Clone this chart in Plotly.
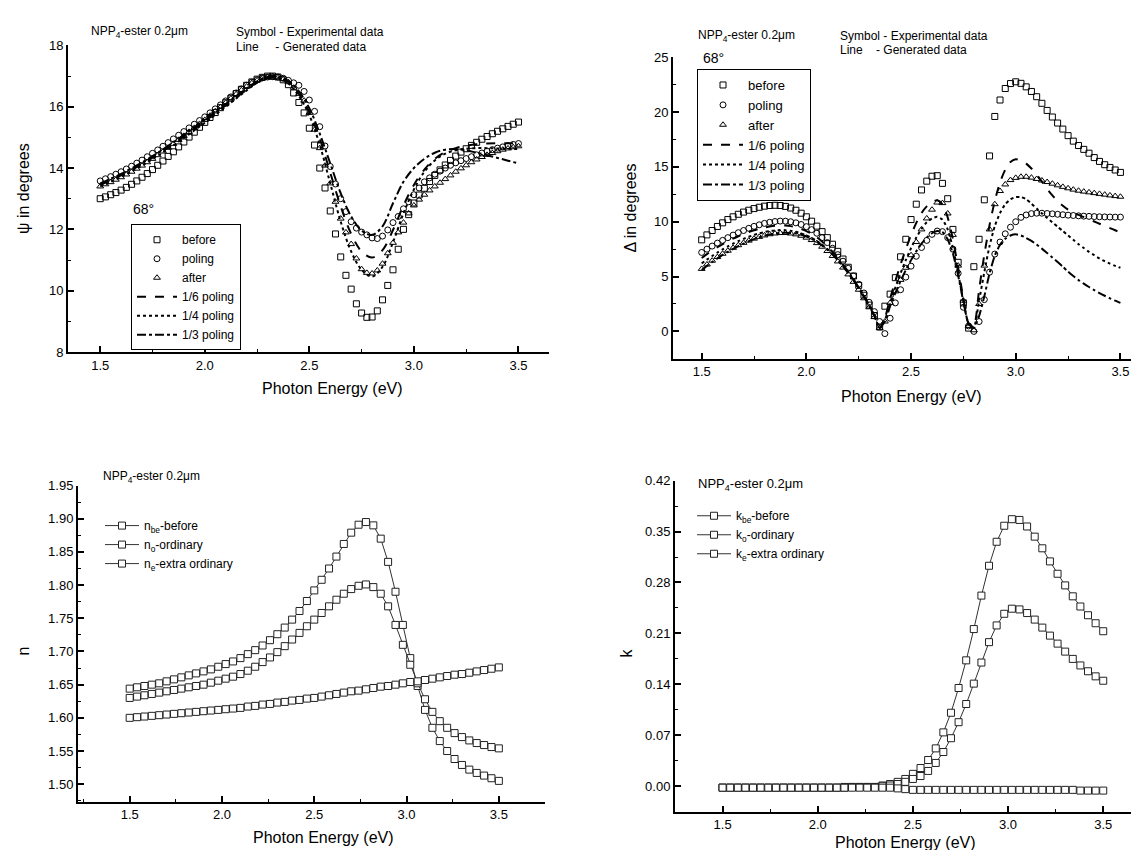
import plotly.graph_objects as go

# ---------------- data ----------------
# photon energy grids (eV)
E_TOP = [1.500, 1.525, 1.550, 1.575, 1.600, 1.625, 1.650, 1.675, 1.700, 1.725,
         1.750, 1.775, 1.800, 1.825, 1.850, 1.875, 1.900, 1.925, 1.950, 1.975,
         2.000, 2.025, 2.050, 2.075, 2.100, 2.125, 2.150, 2.175, 2.200, 2.225,
         2.250, 2.275, 2.300, 2.325, 2.350, 2.375, 2.400, 2.425, 2.450, 2.475,
         2.500, 2.525, 2.550, 2.575, 2.600, 2.625, 2.650, 2.675, 2.700, 2.725,
         2.750, 2.775, 2.800, 2.825, 2.850, 2.875, 2.900, 2.925, 2.950, 2.975,
         3.000, 3.025, 3.050, 3.075, 3.100, 3.125, 3.150, 3.175, 3.200, 3.225,
         3.250, 3.275, 3.300, 3.325, 3.350, 3.375, 3.400, 3.425, 3.450, 3.475,
         3.500]

E_LINE = [1.50, 1.55, 1.60, 1.65, 1.70, 1.75, 1.80, 1.85, 1.90, 1.95,
          2.00, 2.05, 2.10, 2.15, 2.20, 2.25, 2.30, 2.35, 2.40, 2.45,
          2.50, 2.55, 2.60, 2.65, 2.70, 2.75, 2.80, 2.85, 2.90, 2.95,
          3.00, 3.05, 3.10, 3.15, 3.20, 3.25, 3.30, 3.35, 3.40, 3.45, 3.50]

E_BOT = [1.50, 1.54, 1.58, 1.62, 1.66, 1.70, 1.74, 1.78, 1.82, 1.86,
         1.90, 1.94, 1.98, 2.02, 2.06, 2.10, 2.14, 2.18, 2.22, 2.26,
         2.30, 2.34, 2.38, 2.42, 2.46, 2.50, 2.54, 2.58, 2.62, 2.66,
         2.70, 2.74, 2.78, 2.82, 2.86, 2.90, 2.94, 2.98, 3.02, 3.06,
         3.10, 3.14, 3.18, 3.22, 3.26, 3.30, 3.34, 3.38, 3.42, 3.46, 3.50]

# --- psi (degrees), experimental ---
psi_before = [13.00, 13.06, 13.13, 13.20, 13.28, 13.37, 13.47, 13.58, 13.70, 13.82,
              13.95, 14.09, 14.23, 14.38, 14.53, 14.69, 14.85, 15.01, 15.17, 15.33,
              15.49, 15.65, 15.81, 15.97, 16.13, 16.28, 16.43, 16.57, 16.70, 16.81,
              16.90, 16.96, 17.00, 17.00, 16.97, 16.88, 16.72, 16.45, 16.14, 15.80,
              15.30, 14.75, 14.00, 13.35, 12.60, 11.85, 11.10, 10.50, 10.05, 9.57,
              9.27, 9.13, 9.14, 9.34, 9.70, 10.17, 10.68, 11.35, 12.00, 12.48,
              12.86, 13.12, 13.34, 13.56, 13.76, 13.94, 14.10, 14.25, 14.39, 14.52,
              14.63, 14.74, 14.84, 14.94, 15.03, 15.12, 15.20, 15.28, 15.36, 15.43,
              15.50]
psi_poling = [13.58, 13.65, 13.72, 13.80, 13.88, 13.97, 14.06, 14.16, 14.26, 14.37,
              14.48, 14.59, 14.71, 14.83, 14.95, 15.07, 15.19, 15.31, 15.43, 15.55,
              15.67, 15.80, 15.93, 16.06, 16.19, 16.32, 16.45, 16.58, 16.70, 16.80,
              16.88, 16.94, 16.97, 16.98, 16.97, 16.93, 16.86, 16.78, 16.70, 16.50,
              16.22, 15.85, 15.35, 14.72, 14.05, 13.48, 13.00, 12.58, 12.25, 12.04,
              11.91, 11.82, 11.72, 11.70, 11.78, 11.98, 12.22, 12.42, 12.67, 12.90,
              13.13, 13.35, 13.55, 13.68, 13.80, 13.90, 14.00, 14.09, 14.17, 14.24,
              14.31, 14.37, 14.43, 14.49, 14.55, 14.60, 14.65, 14.69, 14.73, 14.77,
              14.80]
psi_after = [13.40, 13.47, 13.54, 13.62, 13.70, 13.79, 13.88, 13.98, 14.08, 14.19,
             14.30, 14.42, 14.54, 14.66, 14.79, 14.92, 15.05, 15.18, 15.31, 15.44,
             15.57, 15.71, 15.85, 15.99, 16.13, 16.27, 16.41, 16.54, 16.66, 16.77,
             16.86, 16.93, 16.97, 16.98, 16.96, 16.90, 16.80, 16.62, 16.42, 16.20,
             15.80, 15.25, 14.65, 14.08, 13.50, 12.90, 12.35, 11.90, 11.52, 11.05,
             10.70, 10.58, 10.56, 10.66, 10.88, 11.22, 11.56, 11.90, 12.22, 12.52,
             12.78, 12.97, 13.13, 13.27, 13.40, 13.52, 13.64, 13.76, 13.88, 13.99,
             14.09, 14.19, 14.28, 14.36, 14.43, 14.49, 14.55, 14.60, 14.64, 14.68,
             14.71]
# --- psi, generated ---
psi_p16 = [13.45, 13.60, 13.76, 13.94, 14.13, 14.34, 14.56, 14.79, 15.03, 15.28,
           15.53, 15.78, 16.04, 16.30, 16.56, 16.80, 16.96, 16.97, 16.80, 16.42,
           15.82, 14.95, 13.85, 12.75, 11.85, 11.28, 11.08, 11.32, 11.98, 12.78,
           13.45, 13.95, 14.30, 14.52, 14.65, 14.73, 14.78, 14.80, 14.81, 14.81, 14.80]
psi_p14 = [13.40, 13.55, 13.71, 13.89, 14.08, 14.29, 14.51, 14.74, 14.98, 15.23,
           15.48, 15.74, 16.00, 16.27, 16.53, 16.78, 16.94, 16.95, 16.76, 16.35,
           15.72, 14.75, 13.50, 12.25, 11.28, 10.68, 10.46, 10.78, 11.58, 12.52,
           13.30, 13.88, 14.25, 14.47, 14.58, 14.63, 14.65, 14.65, 14.64, 14.63, 14.62]
psi_p13 = [13.50, 13.65, 13.81, 13.99, 14.18, 14.39, 14.61, 14.84, 15.08, 15.33,
           15.58, 15.83, 16.09, 16.35, 16.60, 16.83, 16.98, 16.99, 16.84, 16.50,
           15.95, 15.12, 14.15, 13.18, 12.42, 11.96, 11.82, 12.10, 12.85, 13.55,
           14.00, 14.30, 14.50, 14.60, 14.62, 14.58, 14.50, 14.42, 14.33, 14.24, 14.15]

# --- delta (degrees), experimental ---
del_before = [8.35, 8.80, 9.20, 9.57, 9.90, 10.20, 10.45, 10.68, 10.88, 11.05,
              11.20, 11.32, 11.42, 11.48, 11.50, 11.48, 11.40, 11.25, 11.05, 10.78,
              10.45, 10.05, 9.60, 9.10, 8.55, 7.95, 7.30, 6.60, 5.85, 5.05,
              4.20, 3.30, 2.40, 1.45, 0.40, 2.30, 3.40, 4.90, 6.80, 8.40,
              10.20, 11.60, 12.90, 13.70, 14.15, 14.20, 13.50, 12.10, 9.30, 6.30,
              2.60, 0.30, 5.90, 8.40, 12.00, 16.00, 19.60, 21.10, 22.15, 22.60,
              22.76, 22.62, 22.30, 21.88, 21.40, 20.80, 20.15, 19.55, 19.00, 18.45,
              17.85, 17.35, 16.95, 16.60, 16.25, 15.85, 15.50, 15.20, 14.95, 14.72,
              14.50]
del_poling = [7.20, 7.50, 7.78, 8.05, 8.30, 8.55, 8.78, 9.00, 9.20, 9.40,
              9.58, 9.72, 9.85, 9.95, 10.02, 10.06, 10.05, 10.00, 9.90, 9.75,
              9.55, 9.28, 8.95, 8.55, 8.10, 7.58, 7.00, 6.40, 5.75, 5.05,
              4.30, 3.50, 2.65, 1.80, 0.90, -0.20, 1.20, 2.60, 3.80, 4.95,
              5.95, 6.85, 7.65, 8.30, 8.85, 9.15, 9.10, 8.55, 7.50, 5.30,
              2.20, 0.50, 0.00, 0.90, 2.90, 5.40, 7.05, 8.15, 8.90, 9.50,
              10.00, 10.40, 10.62, 10.74, 10.78, 10.78, 10.75, 10.72, 10.68, 10.64,
              10.60, 10.57, 10.54, 10.51, 10.49, 10.47, 10.45, 10.44, 10.43, 10.42,
              10.42]
del_after = [5.70, 6.10, 6.45, 6.78, 7.08, 7.36, 7.62, 7.86, 8.08, 8.28,
             8.46, 8.62, 8.75, 8.86, 8.93, 8.97, 8.97, 8.93, 8.85, 8.72,
             8.55, 8.33, 8.05, 7.72, 7.33, 6.88, 6.38, 5.82, 5.20, 4.52,
             3.80, 3.02, 2.20, 1.30, 0.30, 0.90, 2.60, 3.65, 4.70, 5.80,
             6.95, 8.15, 9.30, 10.30, 11.10, 11.75, 11.70, 10.75, 8.80, 6.00,
             2.80, 0.50, 0.10, 2.50, 6.00, 9.30, 11.60, 12.80, 13.40, 13.80,
             14.00, 14.10, 14.10, 14.02, 13.90, 13.76, 13.62, 13.47, 13.32, 13.18,
             13.05, 12.93, 12.83, 12.75, 12.68, 12.61, 12.54, 12.47, 12.40, 12.34,
             12.28]
# --- delta, generated ---
del_p16 = [6.70, 7.05, 7.38, 7.68, 7.96, 8.22, 8.46, 8.68, 8.88, 9.06,
           9.22, 9.36, 9.48, 9.57, 9.63, 9.66, 9.65, 9.60, 9.50, 9.35,
           9.15, 8.90, 8.58, 8.20, 7.76, 7.26, 6.70, 6.10, 5.45, 4.75,
           4.00, 3.20, 2.35, 1.40, 0.30, 1.20, 3.00, 4.60, 6.10, 7.50,
           8.80, 9.90, 10.80, 11.40, 11.80, 11.95, 11.60, 10.40, 8.40, 5.80,
           3.00, 0.70, 0.50, 3.80, 7.00, 9.70, 11.90, 13.60, 14.75, 15.45,
           15.70, 15.60, 15.30, 14.85, 14.30, 13.65, 13.00, 12.40, 11.90, 11.45,
           11.10, 10.85, 10.62, 10.42, 10.22, 10.02, 9.82, 9.62, 9.42, 9.22,
           9.02]
del_p14 = [6.20, 6.55, 6.88, 7.19, 7.48, 7.75, 8.00, 8.23, 8.44, 8.63,
           8.80, 8.94, 9.06, 9.15, 9.21, 9.24, 9.23, 9.18, 9.08, 8.94,
           8.75, 8.52, 8.24, 7.90, 7.50, 7.04, 6.53, 5.97, 5.36, 4.70,
           3.98, 3.20, 2.35, 1.40, 0.30, 1.00, 2.60, 4.00, 5.30, 6.50,
           7.60, 8.55, 9.35, 9.95, 10.30, 10.45, 10.20, 9.30, 7.60, 5.30,
           2.80, 0.70, 0.40, 2.80, 5.40, 7.80, 9.60, 10.80, 11.60, 12.05,
           12.25, 12.25, 12.05, 11.65, 11.20, 10.75, 10.35, 9.95, 9.55, 9.15,
           8.75, 8.35, 7.95, 7.60, 7.25, 6.95, 6.65, 6.40, 6.18, 5.98,
           5.80]
del_p13 = [5.60, 5.98, 6.33, 6.66, 6.97, 7.26, 7.53, 7.78, 8.01, 8.22,
           8.41, 8.58, 8.72, 8.84, 8.93, 8.98, 9.00, 8.98, 8.92, 8.81,
           8.65, 8.44, 8.17, 7.84, 7.45, 7.00, 6.49, 5.93, 5.32, 4.66,
           3.95, 3.18, 2.35, 1.42, 0.35, 0.90, 2.30, 3.50, 4.60, 5.60,
           6.50, 7.30, 8.00, 8.55, 8.95, 9.15, 9.05, 8.40, 7.10, 5.10,
           2.70, 0.70, 0.30, 1.40, 3.20, 5.30, 6.90, 7.90, 8.45, 8.75,
           8.85, 8.75, 8.52, 8.25, 7.92, 7.55, 7.15, 6.75, 6.33, 5.90,
           5.45, 5.05, 4.68, 4.35, 4.05, 3.77, 3.50, 3.25, 3.02, 2.80,
           2.60]

# --- refractive index n ---
n_be = [1.644, 1.646, 1.648, 1.650, 1.652, 1.655, 1.658, 1.661, 1.664, 1.667,
        1.670, 1.673, 1.677, 1.681, 1.685, 1.690, 1.696, 1.702, 1.709, 1.717,
        1.726, 1.736, 1.748, 1.761, 1.776, 1.792, 1.808, 1.825, 1.843, 1.862,
        1.879, 1.891, 1.895, 1.890, 1.870, 1.835, 1.790, 1.740, 1.690, 1.648,
        1.612, 1.585, 1.565, 1.550, 1.538, 1.529, 1.522, 1.517, 1.513, 1.509, 1.505]
n_o = [1.630, 1.632, 1.634, 1.636, 1.638, 1.640, 1.642, 1.644, 1.646, 1.648,
       1.650, 1.653, 1.656, 1.659, 1.662, 1.666, 1.671, 1.677, 1.684, 1.691,
       1.699, 1.708, 1.718, 1.728, 1.738, 1.748, 1.758, 1.768, 1.778, 1.787,
       1.794, 1.799, 1.801, 1.797, 1.787, 1.768, 1.740, 1.710, 1.680, 1.652,
       1.628, 1.609, 1.595, 1.585, 1.577, 1.571, 1.566, 1.562, 1.559, 1.556, 1.554]
n_e = [1.600, 1.601, 1.602, 1.603, 1.604, 1.605, 1.606, 1.607, 1.608, 1.609,
       1.610, 1.611, 1.612, 1.613, 1.614, 1.615, 1.617, 1.618, 1.620, 1.621,
       1.623, 1.624, 1.626, 1.627, 1.629, 1.630, 1.632, 1.634, 1.636, 1.638,
       1.640, 1.641, 1.643, 1.645, 1.647, 1.648, 1.650, 1.652, 1.654, 1.655,
       1.657, 1.659, 1.661, 1.663, 1.665, 1.666, 1.668, 1.670, 1.672, 1.674, 1.676]

# --- extinction coefficient k ---
k_be = [-0.002, -0.002, -0.002, -0.002, -0.002, -0.002, -0.002, -0.002, -0.002, -0.002,
        -0.002, -0.002, -0.002, -0.002, -0.002, -0.002, -0.001, -0.001, -0.001, -0.001,
        -0.001, 0.001, 0.003, 0.006, 0.010, 0.017, 0.025, 0.036, 0.052, 0.074,
        0.101, 0.135, 0.173, 0.216, 0.262, 0.303, 0.336, 0.358, 0.367, 0.366,
        0.357, 0.343, 0.327, 0.309, 0.292, 0.276, 0.261, 0.247, 0.235, 0.224, 0.213]
k_o = [-0.002, -0.002, -0.002, -0.002, -0.002, -0.002, -0.002, -0.002, -0.002, -0.002,
       -0.002, -0.002, -0.002, -0.002, -0.002, -0.002, -0.002, -0.001, -0.001, -0.001,
       -0.001, 0.000, 0.001, 0.003, 0.006, 0.010, 0.014, 0.021, 0.032, 0.047,
       0.066, 0.088, 0.113, 0.141, 0.170, 0.198, 0.221, 0.237, 0.244, 0.243,
       0.238, 0.229, 0.218, 0.207, 0.196, 0.185, 0.175, 0.166, 0.158, 0.151, 0.145]
k_e = [-0.002, -0.002, -0.002, -0.002, -0.002, -0.002, -0.002, -0.002, -0.002, -0.002,
       -0.002, -0.002, -0.002, -0.002, -0.002, -0.002, -0.002, -0.002, -0.002, -0.002,
       -0.002, -0.002, -0.002, -0.003, -0.004, -0.005, -0.005, -0.005, -0.005, -0.005,
       -0.005, -0.005, -0.005, -0.005, -0.005, -0.005, -0.005, -0.005, -0.005, -0.005,
       -0.005, -0.005, -0.005, -0.005, -0.005, -0.005, -0.005, -0.006, -0.006, -0.006, -0.006]

# legend labels
exp_names = ["before", "poling", "after"]
gen_names = ["1/6 poling", "1/4 poling", "1/3 poling"]
n_names = ["n<sub>be</sub>-before", "n<sub>o</sub>-ordinary", "n<sub>e</sub>-extra ordinary"]
k_names = ["k<sub>be</sub>-before", "k<sub>o</sub>-ordinary", "k<sub>e</sub>-extra ordinary"]

# ---------------- figure ----------------
W, H = 1139, 850
FONT = "Liberation Sans, Arial, sans-serif"
fig = go.Figure()

exp_symbols = ["square-open", "circle-open", "triangle-up-open"]
exp_sizes = [6, 6, 6]
gen_dash = ["dash", "dot", "dashdot"]

# top-left: psi
for name, ys, sym, sz in zip(exp_names, [psi_before, psi_poling, psi_after], exp_symbols, exp_sizes):
    fig.add_trace(go.Scatter(x=E_TOP, y=ys, mode="markers", name=name,
                             marker=dict(symbol=sym, size=sz, color="black", line=dict(width=1, color="black")),
                             xaxis="x", yaxis="y", legend="legend"))
for name, ys, d in zip(gen_names, [psi_p16, psi_p14, psi_p13], gen_dash):
    fig.add_trace(go.Scatter(x=E_LINE, y=ys, mode="lines", name=name,
                             line=dict(color="black", width=2, dash=d, shape="spline"),
                             xaxis="x", yaxis="y", legend="legend"))

# top-right: delta
for name, ys, sym, sz in zip(exp_names, [del_before, del_poling, del_after], exp_symbols, exp_sizes):
    fig.add_trace(go.Scatter(x=E_TOP, y=ys, mode="markers", name=name,
                             marker=dict(symbol=sym, size=sz, color="black", line=dict(width=1, color="black")),
                             xaxis="x2", yaxis="y2", legend="legend2"))
for name, ys, d in zip(gen_names, [del_p16, del_p14, del_p13], gen_dash):
    fig.add_trace(go.Scatter(x=E_TOP, y=ys, mode="lines", name=name,
                             line=dict(color="black", width=2, dash=d, shape="spline", smoothing=0.6),
                             xaxis="x2", yaxis="y2", legend="legend2"))

# bottom-left: n
for name, ys in zip(n_names, [n_be, n_o, n_e]):
    fig.add_trace(go.Scatter(x=E_BOT, y=ys, mode="lines+markers", name=name,
                             line=dict(color="#333333", width=1),
                             marker=dict(symbol="square", size=7, color="white",
                                         line=dict(width=1, color="#222222")),
                             xaxis="x3", yaxis="y3", legend="legend3"))

# bottom-right: k
for name, ys in zip(k_names, [k_be, k_o, k_e]):
    fig.add_trace(go.Scatter(x=E_BOT, y=ys, mode="lines+markers", name=name,
                             line=dict(color="#333333", width=1),
                             marker=dict(symbol="square", size=7, color="white",
                                         line=dict(width=1, color="#222222")),
                             xaxis="x4", yaxis="y4", legend="legend4"))


def px_x(v):
    return v / W


def px_y(v):
    return 1 - v / H


def axis(domain, rng, dtick, minor_dtick, anchor, fmt, tick0=0):
    return dict(domain=domain, range=rng, dtick=dtick, tick0=tick0, anchor=anchor,
                showline=True, linewidth=2, linecolor="black", mirror=False,
                ticks="inside", ticklen=6, tickwidth=1.5, tickcolor="black",
                showgrid=False, zeroline=False, tickformat=fmt,
                tickfont=dict(family=FONT, size=13, color="black"),
                minor=dict(dtick=minor_dtick, ticks="inside", ticklen=3, tickwidth=1,
                           tickcolor="black", showgrid=False))


layout = dict(
    width=W, height=H, margin=dict(l=0, r=0, t=0, b=0),
    paper_bgcolor="white", plot_bgcolor="white",
    font=dict(family=FONT, color="black"),
    xaxis=axis([px_x(60), px_x(541)], [1.346, 3.646], 0.5, 0.25, "y", ".1f", 1.5),
    yaxis=axis([px_y(343), px_y(31)], [8, 18], 2, 1, "x", "d"),
    xaxis2=axis([px_x(665), 1.0], [1.363, 3.627], 0.5, 0.25, "y2", ".1f", 1.5),
    yaxis2=axis([px_y(350), px_y(43)], [-2.5, 25], 5, 2.5, "x2", "d"),
    xaxis3=axis([px_x(70), px_x(537)], [1.22, 3.75], 0.5, 0.25, "y3", ".1f", 1.5),
    yaxis3=axis([px_y(801), px_y(479)], [1.4734, 1.95], 0.05, 0.025, "x3", ".2f", 1.5),
    xaxis4=axis([px_x(667), 1.0], [1.25, 3.73], 0.5, 0.25, "y4", ".1f", 1.5),
    yaxis4=axis([px_y(811), px_y(474)], [-0.035, 0.42], 0.07, 0.035, "x4", ".2f", 0),
    legend=dict(x=px_x(123), y=px_y(213), xanchor="left", yanchor="top",
                bordercolor="black", borderwidth=1, bgcolor="white",
                font=dict(family=FONT, size=12, color="black"), itemwidth=40,
                tracegroupgap=0),
    legend2=dict(x=px_x(689), y=px_y(55), xanchor="left", yanchor="top",
                 bordercolor="black", borderwidth=1, bgcolor="white",
                 font=dict(family=FONT, size=13, color="black"), itemwidth=40,
                 tracegroupgap=0),
    legend3=dict(x=px_x(92), y=px_y(505), xanchor="left", yanchor="top",
                 borderwidth=0, bgcolor="rgba(0,0,0,0)",
                 font=dict(family=FONT, size=12, color="black"), itemwidth=34,
                 tracegroupgap=0),
    legend4=dict(x=px_x(684), y=px_y(495), xanchor="left", yanchor="top",
                 borderwidth=0, bgcolor="rgba(0,0,0,0)",
                 font=dict(family=FONT, size=12, color="black"), itemwidth=34,
                 tracegroupgap=0),
)
fig.update_layout(**layout)

ann = []


def text(x, y, s, size=12, xanchor="left", angle=0):
    ann.append(dict(x=px_x(x), y=px_y(y), xref="paper", yref="paper", text=s,
                    showarrow=False, xanchor=xanchor, yanchor="middle", textangle=angle,
                    font=dict(family=FONT, size=size, color="black")))


SP = "\u00a0"
# headers
text(81, 17, "NPP<sub>4</sub>-ester 0.2\u03bcm", 12)
text(226, 17, "Symbol - Experimental data", 12)
text(226, 33, "Line" + SP * 5 + "- Generated data", 12)
text(123, 197, "68\u00b0", 14)

text(688, 21, "NPP<sub>4</sub>-ester 0.2\u03bcm", 12)
text(830, 21, "Symbol - Experimental data", 12)
text(830, 36, "Line" + SP * 4 + "- Generated data", 12)
text(693, 44, "68\u00b0", 14)

text(93, 470, "NPP<sub>4</sub>-ester 0.2\u03bcm", 12)
text(688, 478, "NPP<sub>4</sub>-ester 0.2\u03bcm", 13)

# axis titles
text(324, 380, "Photon Energy (eV)", 16, "center")
text(903, 388, "Photon Energy (eV)", 16, "center")
text(315, 837, "Photon Energy (eV)", 16, "center")
text(897, 842, "Photon Energy (eV)", 16, "center")
text(16, 177, "\u03c8 in degrees", 16, "center", -90)
text(623, 197, "\u0394 in degrees", 16, "center", -90)
text(16, 648, "n", 16, "center", -90)
text(619, 650, "k", 16, "center", -90)

fig.update_layout(annotations=ann)
fig.write_html("out.html")
